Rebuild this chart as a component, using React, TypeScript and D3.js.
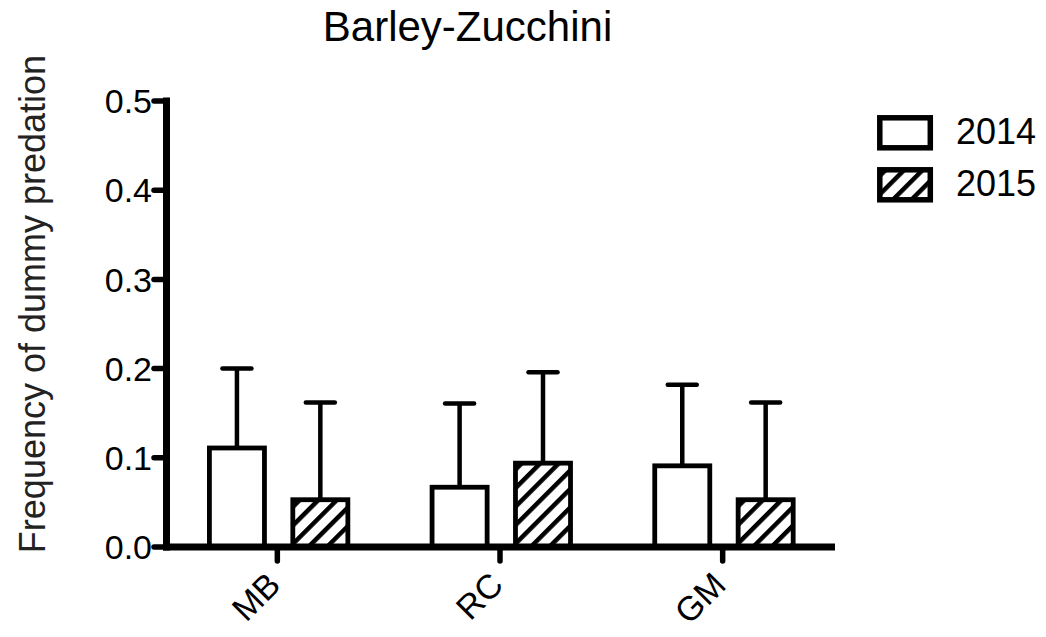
import React from "react";
import * as d3 from "d3";

const categories = ["MB", "RC", "GM"];
const seriesNames = ["2014", "2015"];
const means2014 = [0.111, 0.067, 0.091];
const means2015 = [0.053, 0.094, 0.053];
const upper2014 = [0.2, 0.161, 0.182];
const upper2015 = [0.162, 0.196, 0.162];
const yTicks = [0, 0.1, 0.2, 0.3, 0.4, 0.5];
const title = "Barley-Zucchini";
const yLabel = "Frequency of dummy predation";

const W = 1046;
const H = 637;
const FONT = "'Liberation Sans', Arial, Helvetica, sans-serif";

export default function App() {
  const y = d3.scaleLinear().domain([0, 0.5]).range([547, 101]);
  const x0 = d3.scaleBand<string>().domain(categories).range([166, 834]).padding(0);
  const bw = x0.bandwidth();
  const x1 = d3
    .scaleBand<string>()
    .domain(seriesNames)
    .range([bw / 2 - 83.4, bw / 2 + 83.4])
    .paddingInner(0.34)
    .paddingOuter(0.17);
  const shift = 1.3;

  const bars = categories.flatMap((c, i) => [
    { c, s: "2014", v: means2014[i], u: upper2014[i] },
    { c, s: "2015", v: means2015[i], u: upper2015[i] },
  ]);

  const axisX1 = x0.range()[1];

  return (
    <svg
      width={W}
      height={H}
      style={{ position: "absolute", left: 0, top: 0, background: "#fff" }}
      fontFamily={FONT}
    >
      <defs>
        <pattern
          id="hatch"
          patternUnits="userSpaceOnUse"
          width={13.1}
          height={13.1}
          patternTransform="rotate(45)"
        >
          <rect width={13.1} height={13.1} fill="#fff" />
          <line x1={2.2} y1={-2} x2={2.2} y2={16} stroke="#000" strokeWidth={4.6} />
        </pattern>
      </defs>
      <rect width={W} height={H} fill="#fff" />

      <text x={467.5} y={41} fontSize={42} textAnchor="middle" fill="#000">
        {title}
      </text>

      <text
        transform={`translate(45,304) rotate(-90)`}
        fontSize={36}
        textAnchor="middle"
        fill="#222"
      >
        {yLabel}
      </text>

      {bars.map((b, i) => {
        const bx = (x0(b.c) as number) + (x1(b.s) as number) + shift;
        const w = x1.bandwidth();
        const cx = bx + w / 2;
        return (
          <g key={i}>
            <line x1={cx} x2={cx} y1={y(b.v)} y2={y(b.u)} stroke="#000" strokeWidth={4.5} />
            <line
              x1={cx - 14.5}
              x2={cx + 14.5}
              y1={y(b.u)}
              y2={y(b.u)}
              stroke="#000"
              strokeWidth={4.5}
              strokeLinecap="round"
            />
            <rect
              x={bx}
              y={y(b.v)}
              width={w}
              height={y(0) - y(b.v)}
              fill={b.s === "2014" ? "#fff" : "url(#hatch)"}
              stroke="#000"
              strokeWidth={4.8}
            />
          </g>
        );
      })}

      {/* y axis */}
      <line x1={166.5} x2={166.5} y1={97.5} y2={550.5} stroke="#000" strokeWidth={7} />
      {yTicks.map((t) => (
        <g key={t}>
          <line
            x1={154}
            x2={166}
            y1={y(t)}
            y2={y(t)}
            stroke="#000"
            strokeWidth={5.5}
            strokeLinecap="round"
          />
          <text x={152} y={y(t)} dy="0.36em" fontSize={34} textAnchor="end" fill="#000">
            {t.toFixed(1)}
          </text>
        </g>
      ))}

      {/* x axis */}
      <line x1={163} x2={axisX1 + 1} y1={547} y2={547} stroke="#000" strokeWidth={7} />
      {categories.map((c) => {
        const cx = (x0(c) as number) + bw / 2;
        return (
          <g key={c}>
            <line
              x1={cx}
              x2={cx}
              y1={548}
              y2={561}
              stroke="#000"
              strokeWidth={5.5}
              strokeLinecap="round"
            />
            <text
              transform={`translate(${cx + 5},${587}) rotate(-45)`}
              fontSize={34}
              textAnchor="end"
              fill="#000"
            >
              {c}
            </text>
          </g>
        );
      })}

      {/* legend */}
      {seriesNames.map((s, i) => (
        <g key={s} transform={`translate(0,${i * 52})`}>
          <rect
            x={879.8}
            y={117.8}
            width={50.5}
            height={30}
            fill={s === "2014" ? "#fff" : "url(#hatch)"}
            stroke="#000"
            strokeWidth={5.5}
          />
          <text x={956} y={144} fontSize={36} fill="#000">
            {s}
          </text>
        </g>
      ))}
    </svg>
  );
}
